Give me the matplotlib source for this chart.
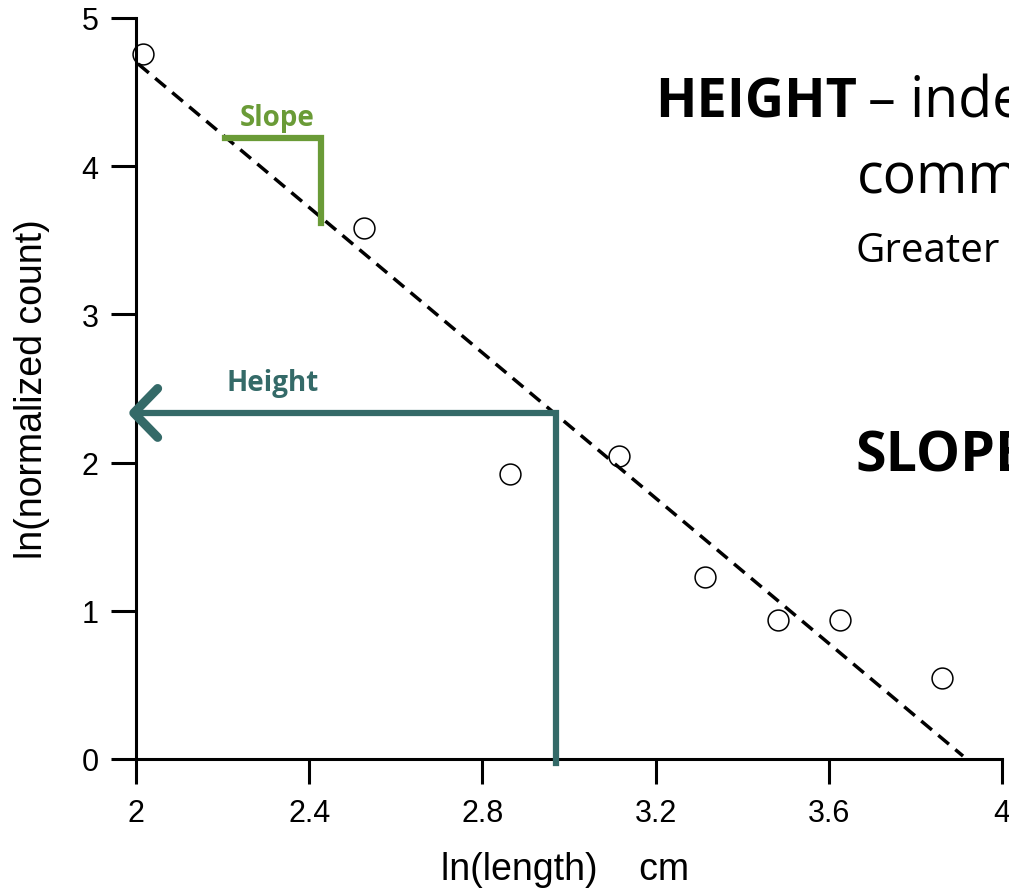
import matplotlib
matplotlib.use("Agg")
from matplotlib import pyplot as plt

# data
ln_length = [2.016, 2.527, 2.864, 3.115, 3.314, 3.483, 3.626, 3.861]
ln_count = [4.76, 3.58, 1.925, 2.046, 1.23, 0.94, 0.94, 0.545]

fit_x = [2.005, 3.91]       # dashed regression line ends
fit_y = [4.69, 0.02]

x_ticks = [2, 2.4, 2.8, 3.2, 3.6, 4]
x_tick_labels = ['2', '2.4', '2.8', '3.2', '3.6', '4']
y_ticks = [0, 1, 2, 3, 4, 5]

# annotation shapes
slope_x = [2.206, 2.427, 2.427]
slope_y = [4.19, 4.19, 3.62]
height_x = [2.0, 2.97, 2.97]
height_y = [2.335, 2.335, -0.03]
head_x = [2.05, 1.995, 2.05]
head_y = [2.50, 2.335, 2.17]

green = '#6A9B37'
teal = '#346A68'


def main():
    W, H = 1009, 895
    fig = plt.figure(figsize=(W / 100, H / 100), dpi=100)
    ax = fig.add_axes([136 / W, 135 / H, 866 / W, 741 / H])

    ax.plot(fit_x, fit_y, color='black', lw=2.5, dashes=(4.0, 2.4), zorder=2)
    ax.plot(ln_length, ln_count, 'o', ms=15, mfc='none', mec='black',
            mew=1.1, zorder=3, clip_on=False)

    # slope bracket
    ax.plot(slope_x, slope_y, color=green, lw=4.5, solid_joinstyle='miter',
            zorder=4)
    ax.text(2.326, 4.23, 'Slope', color=green, fontsize=20,
            fontweight='bold', family='Open Sans', ha='center', va='bottom')

    # height arrow
    ax.plot(height_x, height_y, color=teal, lw=4.5, solid_joinstyle='miter',
            clip_on=False, zorder=4)
    ax.plot(head_x, head_y, color=teal, lw=6.5, solid_capstyle='round',
            solid_joinstyle='round', clip_on=False, zorder=4)
    ax.text(2.316, 2.44, 'Height', color=teal, fontsize=20,
            fontweight='bold', family='Open Sans', ha='center', va='bottom')

    ax.set_xlim(2, 4)
    ax.set_ylim(0, 5)
    ax.set_xticks(x_ticks)
    ax.set_xticklabels(x_tick_labels)
    ax.set_yticks(y_ticks)

    for spine in ['top', 'right']:
        ax.spines[spine].set_visible(False)
    for spine in ['bottom', 'left']:
        ax.spines[spine].set_linewidth(2.2)
    ax.tick_params(axis='both', direction='out', length=18, width=2.2,
                   labelsize=22)
    ax.tick_params(axis='x', pad=10)
    ax.tick_params(axis='y', pad=9)
    for lab in ax.get_xticklabels() + ax.get_yticklabels():
        lab.set_family('Liberation Sans')

    ax.set_xlabel('ln(length)    cm', fontsize=27, family='Liberation Sans')
    ax.xaxis.label.set_va('baseline')
    ax.xaxis.set_label_coords(0.495, -0.162)
    ax.set_ylabel('ln(normalized count)', fontsize=27, family='Liberation Sans')
    ax.yaxis.label.set_va('center')
    ax.yaxis.set_label_coords(-0.12, 0.5)

    # slide text on the right, cut off at the edge like the original
    def px(x, y):
        return x / W, 1 - y / H
    fig.text(*px(655, 118), 'HEIGHT', fontsize=39, fontweight='bold',
             family='Open Sans', va='baseline')
    fig.text(*px(868, 118), '\u2013 inde', fontsize=40,
             family='Open Sans', va='baseline')
    fig.text(*px(857, 193), 'comm', fontsize=40, family='Open Sans',
             va='baseline')
    fig.text(*px(856, 262), 'Greater', fontsize=29, family='Open Sans',
             va='baseline')
    fig.text(*px(855, 472), 'SLOPE', fontsize=40, fontweight='bold',
             family='Open Sans', va='baseline')

    fig.savefig('out.png', dpi=100)


if __name__ == "__main__":
    main()
